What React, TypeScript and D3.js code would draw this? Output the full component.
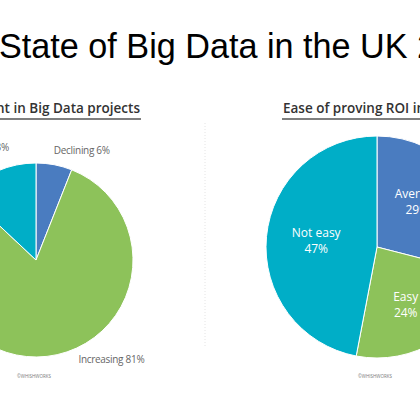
import React, { useEffect, useRef } from 'react';
import * as d3 from 'd3';

// Investment in Big Data projects
const investLabels = ['Declining', 'Increasing', 'Stable'];
const investValues = [6, 81, 13];

// Ease of proving ROI
const roiLabels = ['Average', 'Easy', 'Not easy'];
const roiValues = [29, 24, 47];

const colors = ['#4a7cc0', '#8dc25a', '#00aec7'];

const App = () => {
  const ref = useRef(null);

  useEffect(() => {
    const width = 420;
    const height = 395;

    const svg = d3.select(ref.current).attr('width', width).attr('height', height);
    svg.selectAll('*').remove();

    svg.append('rect').attr('width', width).attr('height', height).attr('fill', '#fff');

    const subFont = 'Open Sans, sans-serif';
    const subSize = 13.5;

    // title (the slide is cropped, so it runs off the right edge)
    svg
      .append('text')
      .attr('x', -1)
      .attr('y', 58)
      .attr('font-family', 'Liberation Sans, Arial, sans-serif')
      .attr('font-size', 34.2)
      .attr('fill', '#000')
      .text('State of Big Data in the UK 2016');

    // left subtitle
    svg
      .append('text')
      .attr('x', 140)
      .attr('y', 113)
      .attr('text-anchor', 'end')
      .attr('font-family', subFont)
      .attr('font-weight', 600)
      .attr('font-size', subSize)
      .attr('fill', '#333')
      .text('Investment in Big Data projects');
    svg.append('line').attr('x1', 0).attr('x2', 141).attr('y1', 119).attr('y2', 119)
      .attr('stroke', '#555').attr('stroke-width', 1.5);

    // right subtitle
    svg
      .append('text')
      .attr('x', 283)
      .attr('y', 113)
      .attr('font-family', subFont)
      .attr('font-weight', 600)
      .attr('font-size', subSize)
      .attr('fill', '#333')
      .text('Ease of proving ROI in Big Data projects');
    svg.append('line').attr('x1', 282).attr('x2', 420).attr('y1', 119).attr('y2', 119)
      .attr('stroke', '#555').attr('stroke-width', 1.5);

    // divider
    svg.append('line').attr('x1', 205).attr('x2', 205).attr('y1', 123).attr('y2', 347)
      .attr('stroke', '#e4e4e4').attr('stroke-dasharray', '1,2');

    const pie = d3.pie().value((d) => d).sort(null);

    // left pie
    const r1 = 97;
    const g1 = svg.append('g').attr('transform', 'translate(36,260)');
    const arc1 = d3.arc().innerRadius(0).outerRadius(r1);
    const arcs1 = pie(investValues);
    g1.selectAll('path').data(arcs1).enter().append('path')
      .attr('d', arc1)
      .attr('fill', (d, i) => colors[i])
      .attr('stroke', '#fff')
      .attr('stroke-width', 1);

    const outer1 = d3.arc().innerRadius(r1 * 1.2).outerRadius(r1 * 1.2);
    const nudge1 = [[24, 8], [50, -11], [-5, -2]];
    g1.selectAll('text.lbl').data(arcs1).enter().append('text')
      .attr('class', 'lbl')
      .attr('x', (d, i) => outer1.centroid(d)[0] + nudge1[i][0])
      .attr('y', (d, i) => outer1.centroid(d)[1] + nudge1[i][1])
      .attr('text-anchor', 'middle')
      .attr('font-family', subFont)
      .attr('font-size', 10)
      .attr('letter-spacing', -0.3)
      .attr('fill', '#666')
      .text((d, i) => `${investLabels[i]} ${d.data}%`);

    // right pie
    const r2 = 111;
    const g2 = svg.append('g').attr('transform', 'translate(377,247)');
    const arc2 = d3.arc().innerRadius(0).outerRadius(r2);
    const arcs2 = pie(roiValues);
    g2.selectAll('path').data(arcs2).enter().append('path')
      .attr('d', arc2)
      .attr('fill', (d, i) => colors[i])
      .attr('stroke', '#fff')
      .attr('stroke-width', 1);

    const inner2 = d3.arc().innerRadius(r2 * 0.55).outerRadius(r2 * 0.55);
    const nudge2 = [[-8, -8], [-4, 6], [0, 0]];
    const lbl2 = g2.selectAll('text.lbl').data(arcs2).enter().append('text')
      .attr('class', 'lbl')
      .attr('transform', (d, i) => {
        const [x, y] = inner2.centroid(d);
        return `translate(${x + nudge2[i][0]},${y + nudge2[i][1]})`;
      })
      .attr('text-anchor', 'middle')
      .attr('font-family', subFont)
      .attr('font-size', 12)
      .attr('fill', '#fff');
    lbl2.append('tspan').attr('x', 0).attr('y', -4).text((d, i) => roiLabels[i]);
    lbl2.append('tspan').attr('x', 0).attr('y', 12).text((d) => `${d.data}%`);

    // credits
    [[17, 378], [358, 378]].forEach(([x, y]) => {
      svg.append('text').attr('x', x).attr('y', y)
        .attr('font-family', subFont)
        .attr('font-size', 4.5)
        .attr('fill', '#777')
        .text('©WHISHWORKS');
    });
  }, []);

  return (
    <div style={{ position: 'absolute', left: 0, top: 0 }}>
      <svg ref={ref} style={{ display: 'block' }}></svg>
    </div>
  );
};

export default App;
